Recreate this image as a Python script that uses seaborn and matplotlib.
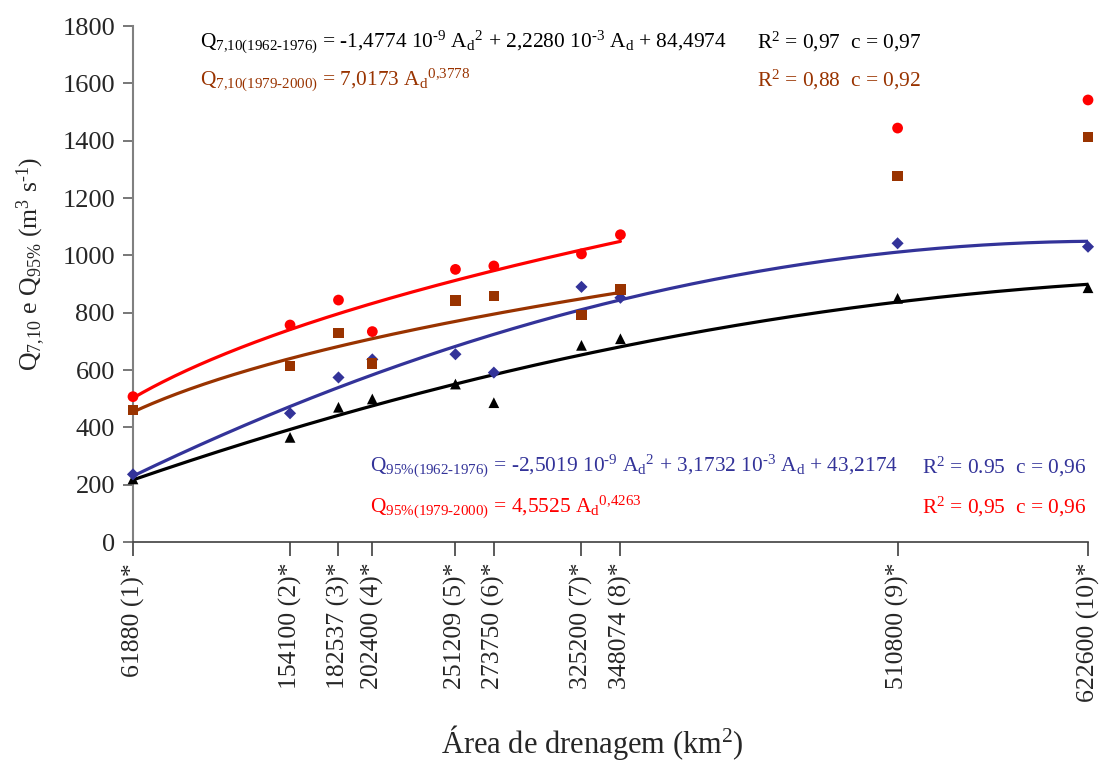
import numpy as np
import pandas as pd
import matplotlib
matplotlib.use("Agg")
import matplotlib.pyplot as plt
import seaborn as sns

# Drainage areas of the stations (km2) and station numbers
area = [61880, 154100, 182537, 202400, 251209, 273750, 325200, 348074, 510800, 622600]
station = [1, 2, 3, 4, 5, 6, 7, 8, 9, 10]

q95_7900 = [507, 757, 844, 734, 951, 963, 1005, 1072, 1444, 1542]   # red circles
q710_7900 = [460, 614, 730, 623, 842, 859, 791, 881, 1276, 1414]    # brown squares
q95_6276 = [236, 449, 574, 637, 655, 591, 890, 852, 1042, 1030]     # blue diamonds
q710_6276 = [220, 365, 470, 499, 551, 486, 686, 709, 850, 887]      # black triangles

# Fitted equations shown on the chart
poly_q710_6276 = [-1.4774e-9, 2.2280e-3, 84.4974]
poly_q95_6276 = [-2.5019e-9, 3.1732e-3, 43.2174]
pow_q710_7900 = [7.0173, 0.3778]
pow_q95_7900 = [4.5525, 0.4263]

yticks = [0, 200, 400, 600, 800, 1000, 1200, 1400, 1600, 1800]

RED = "#FF0000"
BROWN = "#993300"
BLUE = "#333399"
BLACK = "#000000"

sns.set_style("ticks")
plt.rcParams["font.family"] = ["Liberation Serif", "DejaVu Serif"]
plt.rcParams["mathtext.fontset"] = "custom"
plt.rcParams["mathtext.rm"] = "Liberation Serif"
plt.rcParams["mathtext.it"] = "Liberation Serif:italic"
plt.rcParams["mathtext.bf"] = "Liberation Serif:bold"

fig = plt.figure(figsize=(10.99, 7.65), dpi=100)
ax = fig.add_axes([0.121, 0.2915, 0.869, 0.6745])

# fitted curves
x_short = np.linspace(area[0], area[7], 200)
x_long = np.linspace(area[0], area[-1], 300)
curves = [
    (x_long, np.polyval(poly_q710_6276, x_long), BLACK),
    (x_long, np.polyval(poly_q95_6276, x_long), BLUE),
    (x_short, pow_q710_7900[0] * x_short ** pow_q710_7900[1], BROWN),
    (x_short, pow_q95_7900[0] * x_short ** pow_q95_7900[1], RED),
]
for xs, ys, c in curves:
    sns.lineplot(x=xs, y=ys, color=c, linewidth=2.3, ax=ax)

# observed points
pts = pd.DataFrame({"area": area, "q95_7900": q95_7900, "q710_7900": q710_7900,
                    "q95_6276": q95_6276, "q710_6276": q710_6276})
for col, c, m, s in [("q710_6276", BLACK, "^", 60), ("q95_6276", BLUE, "D", 38),
                     ("q710_7900", BROWN, "s", 55), ("q95_7900", RED, "o", 60)]:
    sns.scatterplot(data=pts, x="area", y=col, color=c, marker=m, s=s,
                    edgecolor="none", ax=ax, clip_on=False, zorder=3)

ax.set_xlim(area[0], area[-1])
ax.set_ylim(0, 1800)
ax.set_yticks(yticks)
ax.set_yticklabels([str(v) for v in yticks], fontsize=19)
ax.set_xticks(area)
ax.set_xticklabels([f"{a} ({s})*" for a, s in zip(area, station)],
                   rotation=90, fontsize=18.5)
ax.tick_params(axis="x", direction="out", length=10, width=1.2, color="#404040", pad=5)
ax.tick_params(axis="y", direction="out", length=7, width=1.2, color="#606060", pad=6)

for side in ["top", "right"]:
    ax.spines[side].set_visible(False)
ax.spines["left"].set_color("#808080")
ax.spines["left"].set_linewidth(1.5)
ax.spines["bottom"].set_color("#404040")
ax.spines["bottom"].set_linewidth(1.2)

ax.set_ylabel(r"Q$_{7{,}10}$ e Q$_{95\%}$ (m$^3$ s$^{\text{-}1}$)", fontsize=18.5)
ax.yaxis.set_label_coords(-0.089, 0.539)
ax.set_xlabel(r"Área de drenagem (km$^2$)", fontsize=22)
ax.xaxis.set_label_coords(0.481, -0.35)

fs = 15.4
fig.text(0.182, 0.945,
         r"Q$_{\mathrm{7{,}10(1962\text{-}1976)}}$ = -1,4774 10$^{\text{-}9}$ A$_{\mathrm{d}}$$^{2}$ + 2,2280 10$^{\text{-}3}$ A$_{\mathrm{d}}$ + 84,4974",
         color=BLACK, fontsize=fs, va="center")
fig.text(0.689, 0.945, r"R$^2$ = 0,97  c = 0,97", color=BLACK, fontsize=fs, va="center")
fig.text(0.182, 0.895, r"Q$_{\mathrm{7{,}10(1979\text{-}2000)}}$ = 7,0173 A$_{\mathrm{d}}$$^{0{,}3778}$",
         color=BROWN, fontsize=fs, va="center")
fig.text(0.689, 0.895, r"R$^2$ = 0,88  c = 0,92", color=BROWN, fontsize=fs, va="center")
fig.text(0.337, 0.390,
         r"Q$_{\mathrm{95\%(1962\text{-}1976)}}$ = -2,5019 10$^{\text{-}9}$ A$_{\mathrm{d}}$$^{2}$ + 3,1732 10$^{\text{-}3}$ A$_{\mathrm{d}}$ + 43,2174",
         color=BLUE, fontsize=fs, va="center")
fig.text(0.839, 0.390, r"R$^2$ = 0.95  c = 0,96", color=BLUE, fontsize=fs, va="center")
fig.text(0.337, 0.337, r"Q$_{\mathrm{95\%(1979\text{-}2000)}}$ = 4,5525 A$_{\mathrm{d}}$$^{0{,}4263}$",
         color=RED, fontsize=fs, va="center")
fig.text(0.839, 0.337, r"R$^2$ = 0,95  c = 0,96", color=RED, fontsize=fs, va="center")

fig.savefig("out.png", dpi=100)
